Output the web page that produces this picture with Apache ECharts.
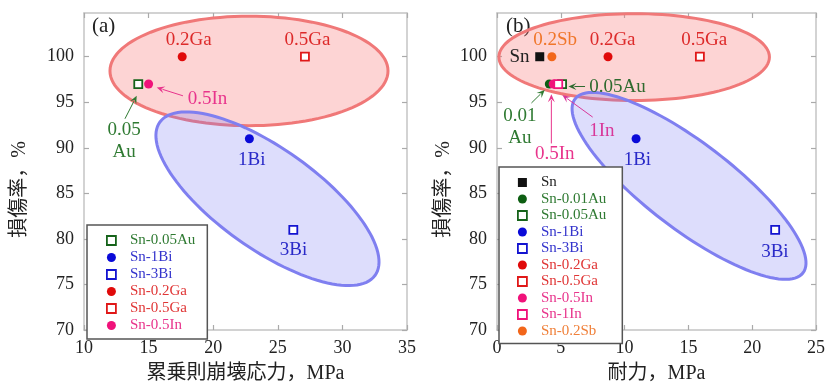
<!DOCTYPE html>
<html>
<head>
<meta charset="utf-8">
<script src="https://cdn.jsdelivr.net/npm/echarts@6/dist/echarts.min.js"></script>
<style>
  html, body { margin: 0; padding: 0; background: #fff; }
  #chart { width: 828px; height: 389px; }
</style>
</head>
<body>
<div id="chart"></div>
<script>
// ---- Panel (a): damage rate vs. power-law breakdown stress ----
const alloysA = ['Sn-0.05Au', 'Sn-1Bi', 'Sn-3Bi', 'Sn-0.2Ga', 'Sn-0.5Ga', 'Sn-0.5In'];
const stressA = [14.2, 22.8, 26.2, 17.6, 27.1, 15.0];
const damageA = [97, 91, 81, 100, 100, 97];

// ---- Panel (b): damage rate vs. proof stress ----
const alloysB = ['Sn', 'Sn-0.01Au', 'Sn-0.05Au', 'Sn-1Bi', 'Sn-3Bi', 'Sn-0.2Ga', 'Sn-0.5Ga', 'Sn-0.5In', 'Sn-1In', 'Sn-0.2Sb'];
const proofB = [3.35, 4.1, 5.1, 10.9, 21.8, 8.7, 15.9, 4.4, 4.8, 4.3];
const damageB = [100, 97, 97, 91, 81, 100, 100, 97, 97, 100];

// ---- Axis ticks ----
const xTicksA = [10, 15, 20, 25, 30, 35];
const xTicksB = [0, 5, 10, 15, 20, 25];
const yTicks = [70, 75, 80, 85, 90, 95, 100];
const yTop = 104.8;

// Marker style of each alloy
const markerStyle = {
  'Sn':        { symbol: 'rect',   color: '#111111', open: false },
  'Sn-0.01Au': { symbol: 'circle', color: '#0d5e12', open: false },
  'Sn-0.05Au': { symbol: 'rect',   color: '#16631a', open: true },
  'Sn-1Bi':    { symbol: 'circle', color: '#0a0ad8', open: false },
  'Sn-3Bi':    { symbol: 'rect',   color: '#1414d0', open: true },
  'Sn-0.2Ga':  { symbol: 'circle', color: '#e00a0a', open: false },
  'Sn-0.5Ga':  { symbol: 'rect',   color: '#e01818', open: true },
  'Sn-0.5In':  { symbol: 'circle', color: '#f0127a', open: false },
  'Sn-1In':    { symbol: 'rect',   color: '#f0127a', open: true },
  'Sn-0.2Sb':  { symbol: 'circle', color: '#f2661a', open: false }
};
const legendTextColor = {
  'Sn': '#222222', 'Sn-0.01Au': '#2f7a32', 'Sn-0.05Au': '#2f7a32',
  'Sn-1Bi': '#3333cc', 'Sn-3Bi': '#3333cc', 'Sn-0.2Ga': '#e03636',
  'Sn-0.5Ga': '#e03636', 'Sn-0.5In': '#e8348c', 'Sn-1In': '#e8348c', 'Sn-0.2Sb': '#f0803a'
};

// Ellipse groupings: centre and two conjugate semi-axis vectors, in data units
const groupsA = [
  { c: [22.77, 98.44], a: [10.76, 0], b: [0, 6.01], fill: 'rgba(250,120,120,0.32)', stroke: '#f07878' },
  { c: [24.20, 84.41], a: [8.32, -8.43], b: [-2.31, -4.45], fill: 'rgba(120,120,245,0.25)', stroke: '#7f7ff0' }
];
const groupsB = [
  { c: [10.75, 99.96], a: [10.60, 0], b: [0, 4.77], fill: 'rgba(250,120,120,0.32)', stroke: '#f07878' },
  { c: [15.05, 85.82], a: [8.93, -9.55], b: [-2.07, -3.75], fill: 'rgba(120,120,245,0.25)', stroke: '#7f7ff0' }
];

// Text annotations: label position, optional arrow (tail -> head), in data units
const notesA = [
  { text: '0.2Ga', at: [18.1, 101.85], color: '#dd2a2a' },
  { text: '0.5Ga', at: [27.3, 101.85], color: '#dd2a2a' },
  { text: '0.5In', at: [19.56, 95.35], color: '#e8348c', tail: [17.66, 95.71], head: [15.63, 96.62] },
  { text: '0.05\nAu', at: [13.1, 90.8], color: '#2f7a32', tail: [13.17, 93.19], head: [14.08, 95.71] },
  { text: '1Bi', at: [22.98, 88.67], color: '#2a2ac8' },
  { text: '3Bi', at: [26.22, 78.74], color: '#2a2ac8' }
];
const notesB = [
  { text: 'Sn', at: [1.77, 100], color: '#222222' },
  { text: '0.2Sb', at: [4.56, 101.85], color: '#f0762a' },
  { text: '0.2Ga', at: [9.06, 101.85], color: '#dd2a2a' },
  { text: '0.5Ga', at: [16.24, 101.85], color: '#dd2a2a' },
  { text: '0.05Au', at: [9.45, 96.62], color: '#2f6a2f', tail: [6.9, 96.73], head: [5.6, 96.73] },
  { text: '0.01\nAu', at: [1.79, 92.32], color: '#2f7a32', tail: [2.70, 94.92], head: [3.74, 96.36] },
  { text: '0.5In', at: [4.52, 89.32], color: '#e8348c', tail: [4.26, 90.48], head: [4.26, 95.89] },
  { text: '1In', at: [8.22, 91.83], color: '#d8389a', tail: [7.5, 93.37], head: [5.12, 95.79] },
  { text: '1Bi', at: [11.0, 88.67], color: '#2a2ac8' },
  { text: '3Bi', at: [21.78, 78.56], color: '#2a2ac8' }
];

const serif = '"Liberation Serif", "Noto Sans CJK JP", serif';
const cjk = '"Liberation Serif", "Noto Sans CJK JP", sans-serif';

function markerItemStyle(m) {
  return m.open
    ? { color: '#ffffff', borderColor: m.color, borderWidth: 1.8, opacity: 1 }
    : { color: m.color, borderWidth: 0, opacity: 1 };
}

function scatterSeries(names, xs, ys, gi) {
  return names.map((n, i) => {
    const m = markerStyle[n];
    return {
      type: 'scatter', name: n, xAxisIndex: gi * 2, yAxisIndex: gi * 2, z: 5,
      symbol: m.symbol,
      symbolSize: m.open ? 8 : 9,
      itemStyle: markerItemStyle(m),
      emphasis: { disabled: true },
      data: [[xs[i], ys[i]]]
    };
  });
}

function ellipseSeries(groups, gi) {
  return {
    type: 'custom', xAxisIndex: gi * 2, yAxisIndex: gi * 2, z: 1, silent: true,
    data: groups.map(g => g.c),
    encode: { x: 0, y: 1 },
    renderItem(params, api) {
      const g = groups[params.dataIndex];
      const pts = [];
      for (let k = 0; k < 120; k++) {
        const t = (k / 120) * Math.PI * 2;
        const c = Math.cos(t), s = Math.sin(t);
        pts.push(api.coord([g.c[0] + g.a[0] * c + g.b[0] * s, g.c[1] + g.a[1] * c + g.b[1] * s]));
      }
      return {
        type: 'polygon', shape: { points: pts },
        style: { fill: g.fill, stroke: g.stroke, lineWidth: 3 }
      };
    }
  };
}

function noteSeries(notes, gi) {
  return {
    type: 'custom', xAxisIndex: gi * 2, yAxisIndex: gi * 2, z: 6, silent: true,
    data: notes.map(n => n.at),
    encode: { x: 0, y: 1 },
    renderItem(params, api) {
      const n = notes[params.dataIndex];
      const p = api.coord(n.at);
      const children = [{
        type: 'text', x: p[0], y: p[1],
        style: {
          text: n.text, fill: n.color, font: '19px ' + serif,
          align: 'center', verticalAlign: 'middle', lineHeight: 22
        }
      }];
      if (n.tail) {
        const t = api.coord(n.tail), h = api.coord(n.head);
        const dx = h[0] - t[0], dy = h[1] - t[1];
        const len = Math.sqrt(dx * dx + dy * dy);
        const ux = dx / len, uy = dy / len;
        const L = 8, W = 3.5;
        const bx = h[0] - ux * L, by = h[1] - uy * L;
        children.push({
          type: 'line', shape: { x1: t[0], y1: t[1], x2: bx + ux * 2, y2: by + uy * 2 },
          style: { stroke: n.color, lineWidth: 1 }
        });
        children.push({
          type: 'polygon',
          shape: { points: [[h[0], h[1]], [bx - uy * W, by + ux * W], [h[0] - ux * L * 0.6, h[1] - uy * L * 0.6], [bx + uy * W, by - ux * W]] },
          style: { fill: n.color }
        });
      }
      return { type: 'group', children };
    }
  };
}

function xAxes(gi, ticks, name) {
  const common = {
    gridIndex: gi, type: 'value', min: ticks[0], max: ticks[ticks.length - 1], interval: 5,
    axisLine: { show: true, onZero: false, lineStyle: { color: '#c4c4c4', width: 1.5 } },
    axisTick: { show: true, inside: true, length: 5, lineStyle: { color: '#aaaaaa', width: 1.2 }, customValues: ticks },
    splitLine: { show: false }
  };
  return [
    Object.assign({}, common, {
      position: 'bottom',
      axisLabel: { show: true, customValues: ticks, margin: 9, color: '#222', fontSize: 18, fontFamily: serif },
      name, nameLocation: 'middle', nameGap: 34,
      nameTextStyle: { color: '#222', fontSize: 20, fontFamily: cjk }
    }),
    Object.assign({}, common, { position: 'top', axisLabel: { show: false } })
  ];
}

function yAxes(gi, nameGap) {
  const common = {
    gridIndex: gi, type: 'value', min: yTicks[0], max: yTop,
    axisLine: { show: true, onZero: false, lineStyle: { color: '#c4c4c4', width: 1.5 } },
    axisTick: { show: true, inside: true, length: 5, lineStyle: { color: '#aaaaaa', width: 1.2 }, customValues: yTicks },
    splitLine: { show: false }
  };
  return [
    Object.assign({}, common, {
      position: 'left',
      axisLabel: { show: true, customValues: yTicks, margin: 10, color: '#222', fontSize: 18, fontFamily: serif },
      name: '損傷率，%', nameLocation: 'middle', nameGap,
      nameTextStyle: { color: '#222', fontSize: 20, fontFamily: cjk, padding: [0, 36, 0, 0] }
    }),
    Object.assign({}, common, { position: 'right', axisLabel: { show: false } })
  ];
}

function legend(names, left, top, padding, gap) {
  return {
    orient: 'vertical', left, top, padding,
    itemWidth: 9, itemHeight: 9, itemGap: gap,
    backgroundColor: '#fff', borderColor: '#555', borderWidth: 1.5, borderRadius: 0,
    selectedMode: false,
    data: names.map(n => ({
      name: n,
      itemStyle: markerItemStyle(markerStyle[n]),
      textStyle: { color: legendTextColor[n] }
    })),
    textStyle: { fontSize: 15, fontFamily: serif, lineHeight: 14, padding: [0, 0, 0, 9] }
  };
}

const legendA = ['Sn-0.05Au', 'Sn-1Bi', 'Sn-3Bi', 'Sn-0.2Ga', 'Sn-0.5Ga', 'Sn-0.5In'];
const legendB = alloysB;

const chart = echarts.init(document.getElementById('chart'), null, { renderer: 'canvas' });
chart.setOption({
  animation: false,
  backgroundColor: '#ffffff',
  grid: [
    { left: 84, right: 421, top: 13, bottom: 55 },
    { left: 497, right: 10, top: 13, bottom: 55 }
  ],
  xAxis: [].concat(xAxes(0, xTicksA, '累乗則崩壊応力，MPa'), xAxes(1, xTicksB, '耐力，MPa')),
  yAxis: [].concat(yAxes(0, 54), yAxes(1, 43)),
  legend: [
    legend(legendA, 87, 225, [8, 12, 6, 19], 2),
    legend(legendB, 499, 167, [8, 16, 5, 18], 1.5)
  ],
  graphic: [
    { type: 'text', left: 92, top: 16, style: { text: '(a)', font: '21px ' + serif, fill: '#222' } },
    { type: 'text', left: 506, top: 16, style: { text: '(b)', font: '21px ' + serif, fill: '#222' } }
  ],
  series: [].concat(
    ellipseSeries(groupsA, 0),
    ellipseSeries(groupsB, 1),
    scatterSeries(alloysA, stressA, damageA, 0),
    scatterSeries(alloysB, proofB, damageB, 1),
    noteSeries(notesA, 0),
    noteSeries(notesB, 1)
  )
});
</script>
</body>
</html>
